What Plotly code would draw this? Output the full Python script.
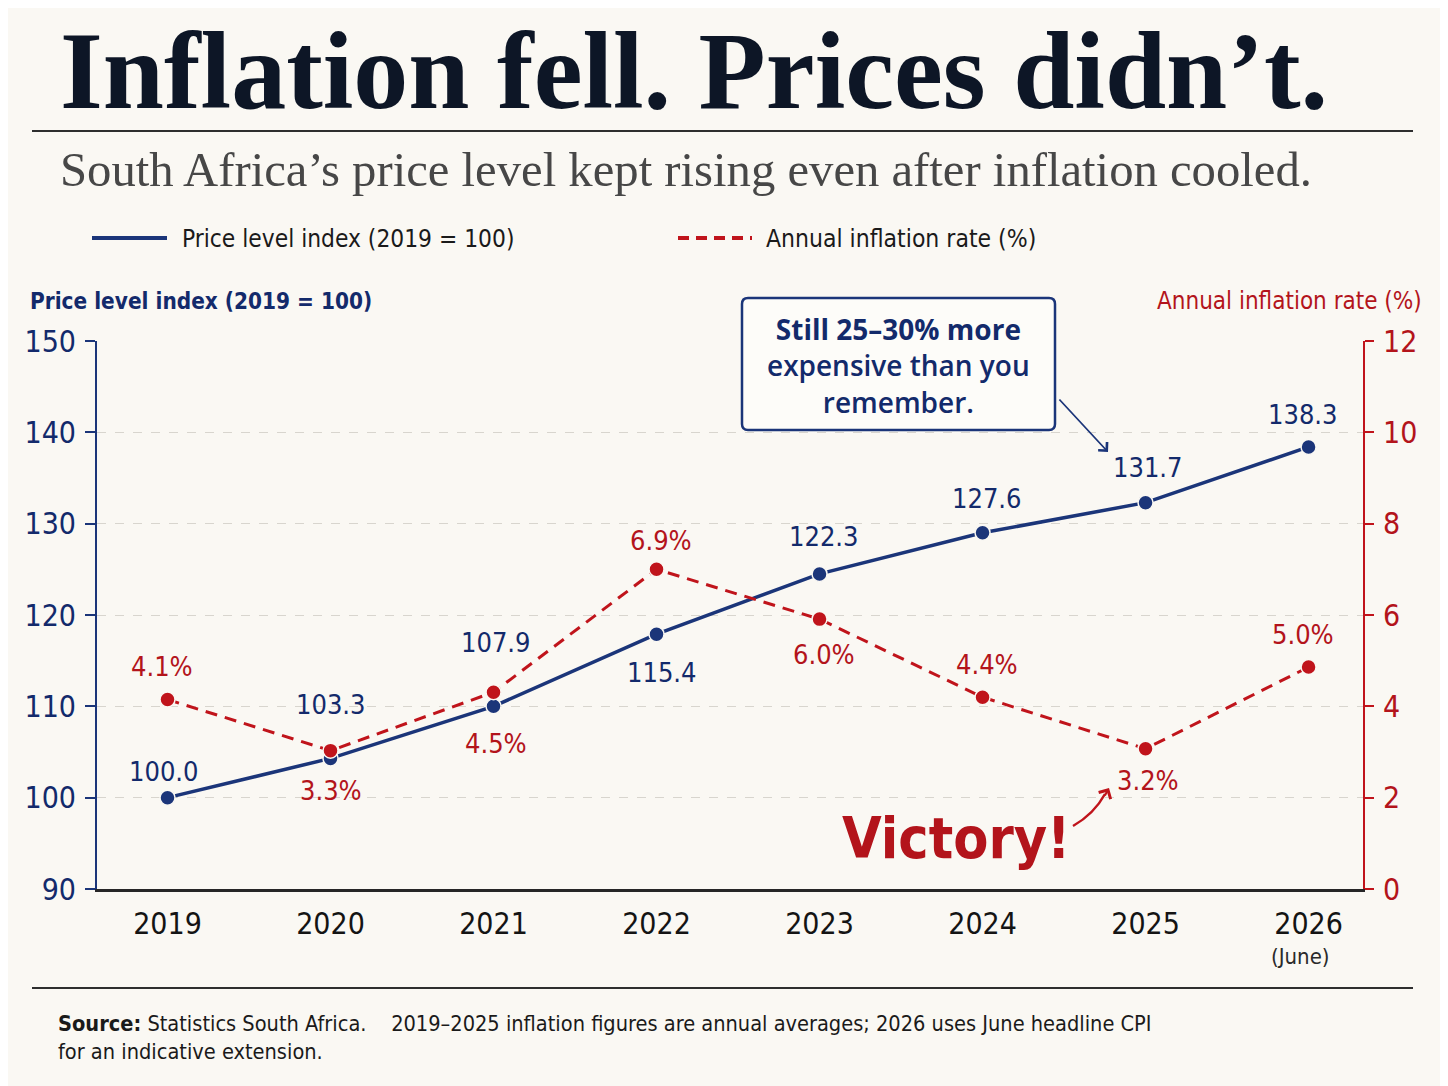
import plotly.graph_objects as go

# ---------------- data ----------------
years = ["2019", "2020", "2021", "2022", "2023", "2024", "2025", "2026"]
price_index = [100.0, 104.3, 110.0, 117.9, 124.5, 129.0, 132.3, 138.4]
price_labels = ["100.0", "103.3", "107.9", "115.4", "122.3", "127.6", "131.7", "138.3"]
inflation = [4.15, 3.03, 4.31, 7.0, 5.91, 4.2, 3.07, 4.86]
inflation_labels = ["4.1%", "3.3%", "4.5%", "6.9%", "6.0%", "4.4%", "3.2%", "5.0%"]
left_ticks = [90, 100, 110, 120, 130, 140, 150]
right_ticks = [0, 2, 4, 6, 8, 10, 12]

# ---------------- style ----------------
OFF = 8  # page body margin
W, H = 1448 - OFF, 1086 - OFF
L, R, T, B = 97, 1363, 341, 889          # plot area in reference pixels
BG = "#faf8f3"
NAVY = "#1b3579"
NAVY_T = "#132a6b"
RED = "#c0141b"
RED_T = "#b3141b"
SANS_C = "DejaVu Sans Condensed, DejaVu Sans, sans-serif"
SANS = "Open Sans, Noto Sans, sans-serif"
SERIF = "Liberation Serif, DejaVu Serif, serif"

price_shift = [26, 54, 64, -38, 37, 34, 35, 32]
infl_shift = [33, -40, -51, 29, -35, 33, -32, 33]
price_xshift = [-4, 0, 2, 5, 4, 4, 2, -6]
infl_xshift = [-6, 0, 2, 4, 4, 4, 2, -6]


def px(xp):
    return (xp - L) / (R - L)


def py(yp):
    return (B - yp) / (B - T)


xs = list(range(len(years)))

fig = go.Figure()
fig.add_trace(go.Scatter(
    x=xs, y=price_index, mode="lines+markers", name="Price level index (2019 = 100)",
    line=dict(color=NAVY, width=3.5),
    marker=dict(size=15, color=NAVY, line=dict(color=BG, width=1.5)),
    yaxis="y", showlegend=False, hoverinfo="skip"))
fig.add_trace(go.Scatter(
    x=xs, y=inflation, mode="lines+markers", name="Annual inflation rate (%)",
    line=dict(color=RED, width=3, dash="12px,8px"),
    marker=dict(size=15, color=RED, line=dict(color=BG, width=1.5)),
    yaxis="y2", showlegend=False, hoverinfo="skip"))

ann = []
for i, t in enumerate(price_labels):
    ann.append(dict(x=xs[i], y=price_index[i], xref="x", yref="y", text=t, showarrow=False,
                    yshift=price_shift[i], xshift=price_xshift[i],
                    font=dict(family=SANS_C, size=27, color=NAVY_T)))
for i, t in enumerate(inflation_labels):
    ann.append(dict(x=xs[i], y=inflation[i], xref="x", yref="y2", text=t, showarrow=False,
                    yshift=infl_shift[i], xshift=infl_xshift[i],
                    font=dict(family=SANS_C, size=27, color=RED_T)))

# title, subtitle
ann.append(dict(x=px(58), y=py(71), xref="paper", yref="paper", xanchor="left", yanchor="middle",
                text="<b>Inflation fell. Prices didn’t.</b>", showarrow=False,
                font=dict(family=SERIF, size=110, color="#0d1626")))
ann.append(dict(x=px(58), y=py(170), xref="paper", yref="paper", xanchor="left", yanchor="middle",
                text="South Africa’s price level kept rising even after inflation cooled.", showarrow=False,
                font=dict(family=SERIF, size=48.7, color="#474747")))
# legend texts
ann.append(dict(x=px(180), y=py(238), xref="paper", yref="paper", xanchor="left", yanchor="middle",
                text="Price level index (2019 = 100)", showarrow=False,
                font=dict(family=SANS_C, size=24.3, color="#1a1a1a")))
ann.append(dict(x=px(764), y=py(238), xref="paper", yref="paper", xanchor="left", yanchor="middle",
                text="Annual inflation rate (%)", showarrow=False,
                font=dict(family=SANS_C, size=24.5, color="#1a1a1a")))
# axis titles
ann.append(dict(x=px(28), y=py(301), xref="paper", yref="paper", xanchor="left", yanchor="middle",
                text="<b>Price level index (2019 = 100)</b>", showarrow=False,
                font=dict(family=SANS_C, size=22.4, color=NAVY_T)))
ann.append(dict(x=px(1424), y=py(301), xref="paper", yref="paper", xanchor="right", yanchor="middle",
                text="Annual inflation rate (%)", showarrow=False,
                font=dict(family=SANS_C, size=24, color=RED_T)))
# (June)
ann.append(dict(x=xs[-1], y=py(956), xref="x", yref="paper", yanchor="middle", xshift=-8,
                text="(June)", showarrow=False,
                font=dict(family=SANS_C, size=22, color="#2a2a2a")))
# callout text
ann.append(dict(x=px(898), y=py(365), xref="paper", yref="paper", xanchor="center", yanchor="middle",
                text="<b>Still 25–30% more</b><br>expensive than you<br>remember.", showarrow=False,
                align="center",
                font=dict(family=SANS, size=28, color=NAVY_T, weight=600)))
# callout arrow
ann.append(dict(x=px(1108), y=py(452), xref="paper", yref="paper", text="", showarrow=True,
                ax=-50, ay=-54, arrowhead=4, arrowsize=1.3, arrowwidth=1.8, arrowcolor=NAVY))
# Victory
ann.append(dict(x=px(956), y=py(838), xref="paper", yref="paper", xanchor="center", yanchor="middle",
                text="<b>Victory!</b>", showarrow=False,
                font=dict(family=SANS_C, size=57, color=RED_T)))
ann.append(dict(x=px(1109), y=py(788), xref="paper", yref="paper", text="", showarrow=True,
                ax=-5, ay=9, arrowhead=4, arrowsize=1.2, arrowwidth=2.2, arrowcolor=RED))
# source
ann.append(dict(x=px(56), y=py(1037), xref="paper", yref="paper", xanchor="left", yanchor="middle",
                align="left",
                text="<b>Source:</b> Statistics South Africa.\u00a0\u00a0\u00a0 2019–2025 inflation figures are annual averages; 2026 uses June headline CPI<br>for an indicative extension.",
                showarrow=False, font=dict(family=SANS_C, size=21.6, color="#1a1a1a")))

shapes = []
# rules
shapes.append(dict(type="line", xref="paper", yref="paper", x0=px(32), x1=px(1413), y0=py(131), y1=py(131),
                   line=dict(color="#2e2e2e", width=2)))
shapes.append(dict(type="line", xref="paper", yref="paper", x0=px(32), x1=px(1413), y0=py(988), y1=py(988),
                   line=dict(color="#2e2e2e", width=2)))
# legend glyphs
shapes.append(dict(type="line", xref="paper", yref="paper", x0=px(92), x1=px(167), y0=py(238), y1=py(238),
                   line=dict(color=NAVY, width=4)))
shapes.append(dict(type="line", xref="paper", yref="paper", x0=px(678), x1=px(752), y0=py(238), y1=py(238),
                   line=dict(color=RED, width=4, dash="11px,7px")))
# callout box (rounded)
bx0, bx1, by0, by1, r = 742, 1055, 298, 430, 6
path = (f"M {px(bx0 + r)},{py(by0)} L {px(bx1 - r)},{py(by0)} Q {px(bx1)},{py(by0)} {px(bx1)},{py(by0 + r)} "
        f"L {px(bx1)},{py(by1 - r)} Q {px(bx1)},{py(by1)} {px(bx1 - r)},{py(by1)} "
        f"L {px(bx0 + r)},{py(by1)} Q {px(bx0)},{py(by1)} {px(bx0)},{py(by1 - r)} "
        f"L {px(bx0)},{py(by0 + r)} Q {px(bx0)},{py(by0)} {px(bx0 + r)},{py(by0)} Z")
shapes.append(dict(type="path", xref="paper", yref="paper", path=path, fillcolor="#fdfcf9",
                   line=dict(color=NAVY, width=2.5), layer="above"))
# victory curved arrow stem
vpath = f"M {px(1073)},{py(826)} Q {px(1094)},{py(814)} {px(1105)},{py(794)}"
shapes.append(dict(type="path", xref="paper", yref="paper", path=vpath,
                   line=dict(color=RED, width=2.5)))

fig.update_layout(
    width=W, height=H,
    paper_bgcolor=BG, plot_bgcolor=BG,
    margin=dict(l=L - OFF, r=W - (R - OFF), t=T - OFF, b=H - (B - OFF), pad=0),
    showlegend=False,
    xaxis=dict(range=[-0.4325, 7.334], tickvals=xs, ticktext=years, showgrid=False, zeroline=False,
               showline=True, linecolor="#262626", linewidth=2.5, ticks="", ticklabelstandoff=6,
               tickfont=dict(family=SANS_C, size=30, color="#141414")),
    yaxis=dict(range=[90, 150], tickvals=left_ticks, showgrid=True, gridcolor="#d8d5ce", griddash="dash",
               gridwidth=1, zeroline=False, showline=True, linecolor=NAVY, linewidth=2,
               ticks="outside", ticklen=10, tickcolor=NAVY, tickwidth=2, ticklabelstandoff=3,
               tickfont=dict(family=SANS_C, size=30, color=NAVY_T)),
    yaxis2=dict(range=[0, 12], tickvals=right_ticks, overlaying="y", side="right", showgrid=False,
                zeroline=False, showline=True, linecolor=RED, linewidth=2,
                ticks="outside", ticklen=9, tickcolor=RED, tickwidth=2, ticklabelstandoff=3,
                tickfont=dict(family=SANS_C, size=30, color=RED_T)),
    annotations=ann, shapes=shapes,
)

fig.write_html("out.html")
